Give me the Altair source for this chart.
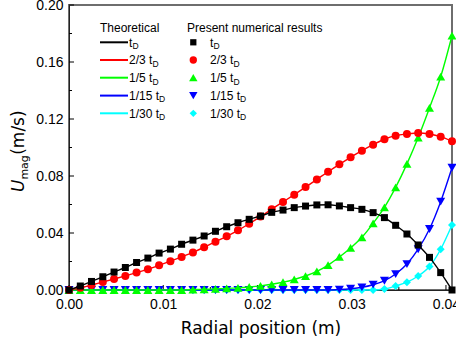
import altair as alt
import pandas as pd

# ---------------- data ----------------
r = [0.0, 0.0012, 0.00239, 0.00359, 0.00478, 0.00598, 0.00717, 0.00837, 0.00956, 0.01076,
     0.01195, 0.01315, 0.01434, 0.01554, 0.01673, 0.01793, 0.01912, 0.02032, 0.02151, 0.02271,
     0.0239, 0.0251, 0.0263, 0.02749, 0.02869, 0.02988, 0.03108, 0.03227, 0.03347, 0.03466,
     0.03586, 0.03705, 0.03825, 0.03944, 0.04064]

u_tD = [0.0, 0.0028, 0.006, 0.0093, 0.0126, 0.0158, 0.0193, 0.0224, 0.0259, 0.0287,
        0.0321, 0.035, 0.0379, 0.0412, 0.0444, 0.0472, 0.0496, 0.0519, 0.0545, 0.0561,
        0.0578, 0.0589, 0.0597, 0.0598, 0.059, 0.0578, 0.0566, 0.0543, 0.0508, 0.0454,
        0.0393, 0.0316, 0.0229, 0.0122, 0.0]

u_2_3 = [0.0, 0.0015, 0.0035, 0.0056, 0.0077, 0.0099, 0.0122, 0.0146, 0.0173, 0.0202,
         0.0232, 0.0264, 0.03, 0.0339, 0.0377, 0.0419, 0.0465, 0.0515, 0.0567, 0.0618,
         0.0669, 0.0722, 0.0776, 0.083, 0.0882, 0.0931, 0.0978, 0.102, 0.1058, 0.1083,
         0.1095, 0.1102, 0.1095, 0.1076, 0.1043]

u_1_5 = [0.0, 0.0, 0.0, 0.0, 0.0, 0.0, 0.0, 0.0, 0.0, 0.0,
         0.0, 0.0003, 0.0005, 0.0008, 0.0011, 0.0015, 0.0021, 0.0029, 0.004, 0.0055,
         0.0074, 0.0098, 0.013, 0.0175, 0.0232, 0.0295, 0.037, 0.0468, 0.058, 0.072,
         0.0885, 0.107, 0.1278, 0.1497, 0.1785]

u_1_15 = [0.0, 0.0, 0.0, 0.0, 0.0, 0.0, 0.0, 0.0, 0.0, 0.0,
          0.0, 0.0, 0.0, 0.0, 0.0, 0.0, 0.0, 0.0, 0.0, 0.0,
          0.0, 0.0, 0.0, 0.0, 0.0003, 0.0009, 0.0019, 0.0037, 0.0065, 0.0112,
          0.0182, 0.0286, 0.0428, 0.062, 0.0858]

u_1_30 = [0.0, 0.0, 0.0, 0.0, 0.0, 0.0, 0.0, 0.0, 0.0, 0.0,
          0.0, 0.0, 0.0, 0.0, 0.0, 0.0, 0.0, 0.0, 0.0, 0.0,
          0.0, 0.0, 0.0, 0.0, 0.0, 0.0, 0.0, 0.0, 0.0007, 0.0028,
          0.0055, 0.0098, 0.0165, 0.0286, 0.0456]

labels = ["t", "2/3 t", "1/5 t", "1/15 t", "1/30 t"]
subscript = "D"
y_ticks = [0.0, 0.04, 0.08, 0.12, 0.16, 0.20]
y_minor = [0.02, 0.06, 0.10, 0.14, 0.18]
x_ticks = [0.0, 0.01, 0.02, 0.03, 0.04]
x_minor = [0.005, 0.015, 0.025, 0.035]

# ---------------- styles ----------------
values = [u_tD, u_2_3, u_1_5, u_1_15, u_1_30]
colors = ["#000000", "#ff0000", "#00ff00", "#0000ff", "#00ffff"]
shapes = ["square", "circle", "triangle-up", "triangle-down", "diamond"]
sizes = [49, 64, 81, 81, 64]
sub_dx = [3.4, 23.4, 23.4, 30.0, 30.0]

X_DOMAIN = [0, 0.04064]
x_enc = alt.X("r:Q", scale=alt.Scale(domain=X_DOMAIN, nice=False, zero=False),
              axis=alt.Axis(values=x_ticks, format=".2f", ticks=False, grid=False,
                            labelFlush=False, labelOverlap=False,
                            labelFont="Liberation Sans", labelFontSize=14, labelColor="#000",
                            labelPadding=7, domainColor="#222", domainWidth=1,
                            title="Radial position (m)", titleFont="DejaVu Sans",
                            titleFontSize=17, titleFontWeight="normal", titleColor="#000",
                            titlePadding=9))
y_enc = alt.Y("u:Q", scale=alt.Scale(domain=[0, 0.2], nice=False),
              axis=alt.Axis(values=y_ticks, format=".2f", ticks=False, grid=False,
                            labelFlush=False, labelOverlap=False,
                            labelFont="Liberation Sans", labelFontSize=14, labelColor="#000",
                            labelPadding=6, domainColor="#222", domainWidth=1, title=""))

layers = []

# tick marks (inward)
layers.append(alt.Chart(pd.DataFrame({"u": y_ticks})).mark_rule(color="#000", strokeWidth=1)
              .encode(y=y_enc, x=alt.value(0), x2=alt.value(5)))
layers.append(alt.Chart(pd.DataFrame({"u": y_minor})).mark_rule(color="#000", strokeWidth=1)
              .encode(y=y_enc, x=alt.value(0), x2=alt.value(3)))
layers.append(alt.Chart(pd.DataFrame({"r": x_ticks})).mark_rule(color="#000", strokeWidth=1)
              .encode(x=x_enc, y=alt.value(285), y2=alt.value(280)))
layers.append(alt.Chart(pd.DataFrame({"r": x_minor})).mark_rule(color="#000", strokeWidth=1)
              .encode(x=x_enc, y=alt.value(285), y2=alt.value(282)))

# data series, drawn so that t_D ends on top
for i in [4, 3, 2, 1, 0]:
    df = pd.DataFrame({"r": r, "u": values[i]})
    base = alt.Chart(df)
    layers.append(base.mark_line(color=colors[i], strokeWidth=1.4, interpolate="monotone")
                  .encode(x=x_enc, y=y_enc))
    layers.append(base.mark_point(shape=shapes[i], filled=True, opacity=1, color=colors[i],
                                  size=sizes[i], strokeWidth=0)
                  .encode(x=x_enc, y=y_enc))

one = alt.Data(values=[{}])


def text(t, x, y, size=12, font="Liberation Sans", **kw):
    return alt.Chart(one).mark_text(text=t, font=font, fontSize=size, color="#000",
                                    align="left", baseline="alphabetic", **kw).encode(
        x=alt.value(x), y=alt.value(y))


# legend headers
layers.append(text("Theoretical", 31, 26.7))
layers.append(text("Present numerical results", 118, 26.7))

row_y = [37.3, 55.0, 72.7, 90.6, 108.3]
for i in range(5):
    yy = row_y[i]
    layers.append(alt.Chart(one).mark_rule(color=colors[i], strokeWidth=2)
                  .encode(x=alt.value(31), x2=alt.value(59), y=alt.value(yy)))
    layers.append(alt.Chart(one).mark_point(shape=shapes[i], filled=True, opacity=1,
                                            color=colors[i], size=sizes[i] - 10, strokeWidth=0)
                  .encode(x=alt.value(124.3), y=alt.value(yy)))
    for x0 in (60, 141):
        layers.append(text(labels[i], x0, yy + 4.3))
        layers.append(text(subscript, x0 + sub_dx[i], yy + 6.8, size=8.5))

# y-axis title  U_mag (m/s), rotated
layers.append(text("U", -45, 187, size=17, font="DejaVu Sans", angle=270, fontStyle="italic"))
layers.append(text("mag", -41, 174.6, size=11, font="DejaVu Sans", angle=270))
layers.append(text("(m/s)", -45, 149.8, size=17, font="DejaVu Sans", angle=270))

chart = alt.layer(*layers).properties(
    width=383, height=285,
    autosize=alt.AutoSizeParams(type="none"),
    padding={"left": 69, "top": 5, "right": 4, "bottom": 58},
).configure_view(stroke="#6e6e6e", strokeWidth=2)

chart.save("out.html", embed_options={"renderer": "svg", "actions": False})
